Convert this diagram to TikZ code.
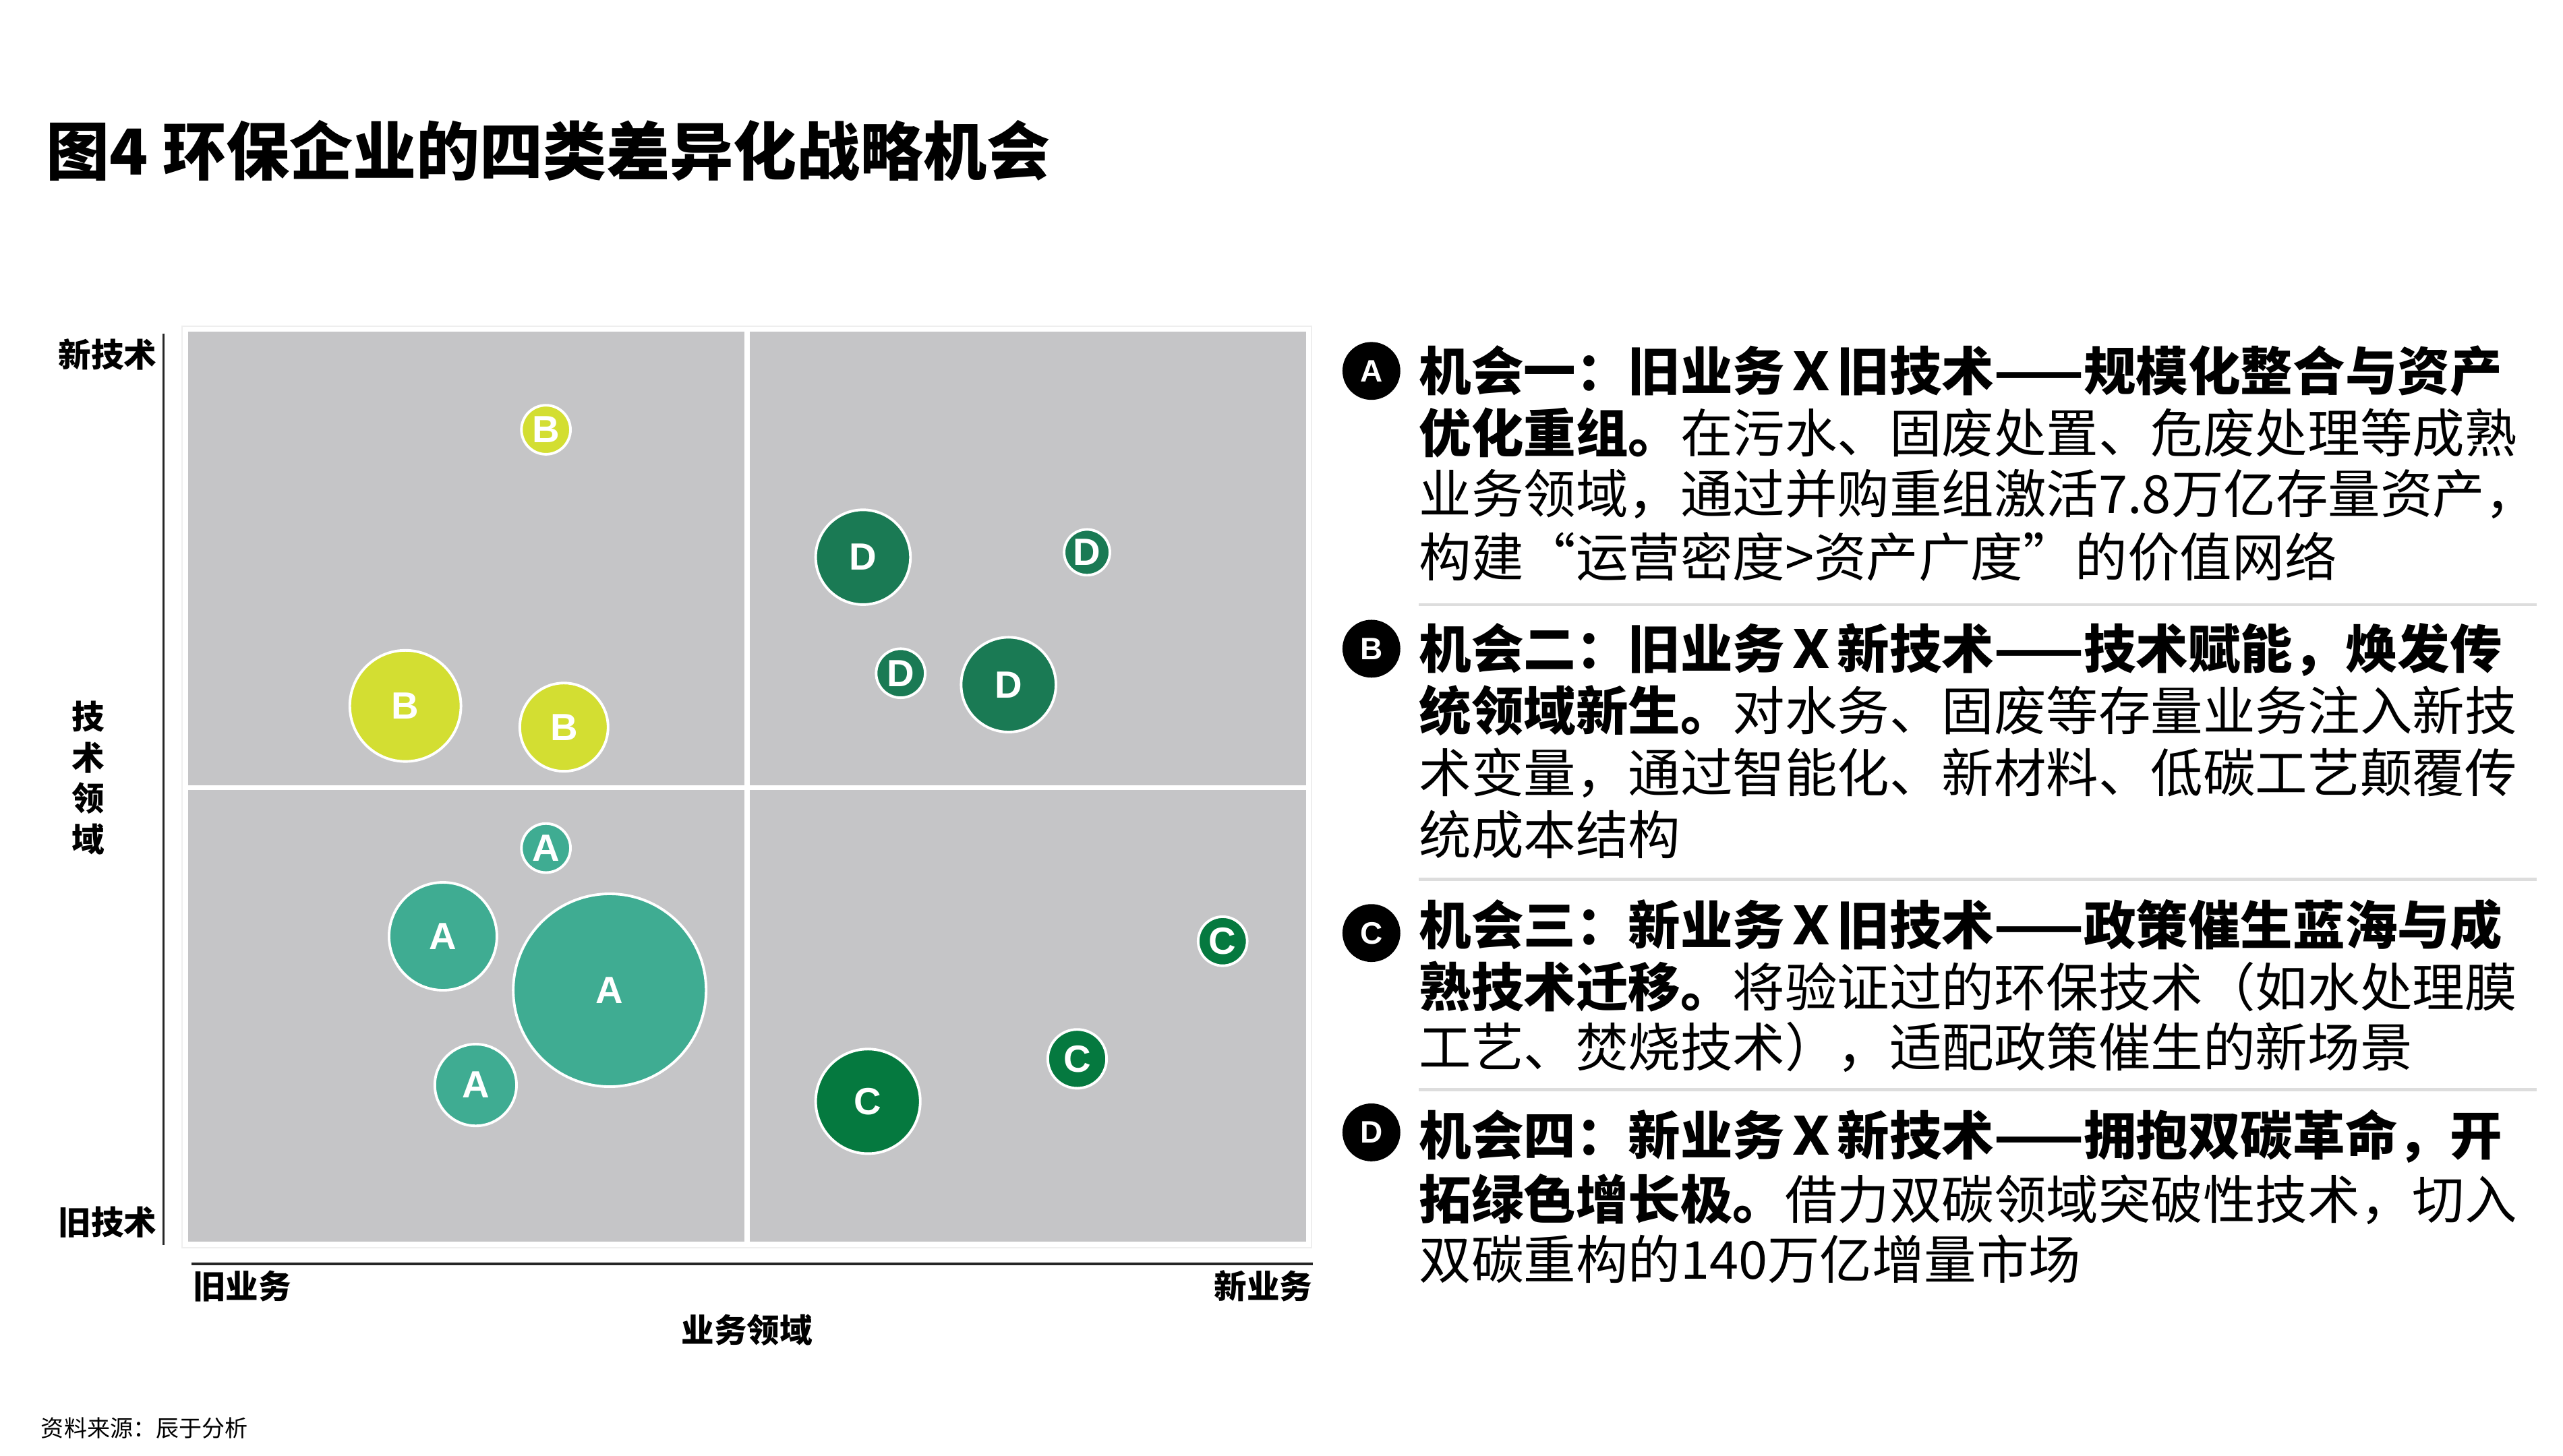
\documentclass[tikz,border=0pt]{standalone}
\usepackage{fontspec}
\setmainfont{Liberation Sans}
\newfontfamily\cjk{Noto Sans CJK SC}
\newfontfamily\latb{Liberation Sans}
\definecolor{quadgray}{HTML}{C5C5C7}
\definecolor{colA}{HTML}{3FAC92}
\definecolor{colB}{HTML}{D3DE32}
\definecolor{colC}{HTML}{05793F}
\definecolor{colD}{HTML}{1A7A54}
\definecolor{sepgray}{HTML}{DDDDDD}
\definecolor{edgegray}{HTML}{EEEEEE}
\tikzset{
  bub/.style={circle, draw=white, line width=0.8mm, inner sep=0pt, text=white,
    font=\latb\bfseries\fontsize{33}{33}\selectfont},
  bubA/.style={bub, fill=colA},
  bubB/.style={bub, fill=colB},
  bubC/.style={bub, fill=colC},
  bubD/.style={bub, fill=colD},
  marker/.style={circle, fill=black, inner sep=0pt, minimum size=17.7mm, text=white,
    font=\latb\bfseries\fontsize{27}{27}\selectfont},
  bodyline/.style={anchor=west, inner sep=0pt, text height=40pt, text depth=6pt,
    font=\cjk\fontsize{45.5}{54}\selectfont},
  axislbl/.style={inner sep=0pt, font=\cjk\bfseries\fontsize{28.5}{35.6}\selectfont},
  sepline/.style={draw=sepgray, line width=1mm},
  axisline/.style={draw=black!85, line width=0.7mm},
  divline/.style={draw=white, line width=1.6mm},
}
\begin{document}
\begin{tikzpicture}[x=0.5mm,y=-0.5mm]
\useasboundingbox[fill=white] (0,0) rectangle (1568,891);

% title
\node[anchor=west, inner sep=0pt, font=\cjk\bfseries\fontsize{55.2}{60}\selectfont] (title) at (28,92) {图4 环保企业的四类差异化战略机会};

% quadrant area
\draw[edgegray, line width=0.4mm] (111.5,199.5) rectangle (802.5,763.5);
\fill[quadgray] (115,203) rectangle (799,760);
\coordinate (vtop) at (457,203);
\coordinate (vbot) at (457,760);
\coordinate (hl) at (115,482);
\coordinate (hr) at (799,482);
\draw[divline] (vtop) -- (vbot);
\draw[divline] (hl) -- (hr);

% axes
\coordinate (yax1) at (100,204);
\coordinate (yax2) at (100,762);
\coordinate (xax1) at (117,773.5);
\coordinate (xax2) at (803,773.5);
\draw[axisline] (yax1) -- (yax2);
\draw[axisline] (xax1) -- (xax2);

\node[axislbl, anchor=east] (newtech) at (96,217) {新技术};
\node[axislbl, anchor=east] (oldtech) at (96,748) {旧技术};
\node[axislbl, align=center] (techfield) at (54,476) {技\\术\\领\\域};
\node[axislbl, anchor=west] (oldbiz) at (118,787) {旧业务};
\node[axislbl, anchor=east] (newbiz) at (803,787) {新业务};
\node[axislbl] (bizfield) at (457,814) {业务领域};

% bubbles
\node[bubB, minimum size=15mm] (b1) at (334,263) {B};
\node[bubB, minimum size=34mm] (b2) at (248,432) {B};
\node[bubB, minimum size=27mm] (b3) at (345,445) {B};
\node[bubD, minimum size=29mm] (d1) at (528,341) {D};
\node[bubD, minimum size=14mm] (d2) at (665,338) {D};
\node[bubD, minimum size=15mm] (d3) at (551,412) {D};
\node[bubD, minimum size=29mm] (d4) at (617,419) {D};
\node[bubA, minimum size=15mm] (a1) at (334,519) {A};
\node[bubA, minimum size=33mm] (a2) at (271,573) {A};
\node[bubA, minimum size=59mm] (a3) at (373,606) {A};
\node[bubA, minimum size=25mm] (a4) at (291,664) {A};
\node[bubC, minimum size=15mm] (c1) at (748,576) {C};
\node[bubC, minimum size=18mm] (c2) at (659,648) {C};
\node[bubC, minimum size=32mm] (c3) at (531,674) {C};

% right panel markers
\node[marker] (ma) at (839,227) {A};
\node[marker] (mb) at (839,397) {B};
\node[marker] (mc) at (839,571) {C};
\node[marker] (md) at (839,693) {D};

% paragraph A
\node[bodyline] (la1) at (868,227) {\bfseries 机会一：旧业务Ｘ旧技术——规模化整合与资产};
\node[bodyline] (la2) at (868,265) {{\bfseries 优化重组。}在污水、固废处置、危废处理等成熟};
\node[bodyline] (la3) at (868,302) {业务领域，通过并购重组激活7.8万亿存量资产，};
\node[bodyline] (la4) at (868,341) {构建“运营密度>资产广度”的价值网络};

% paragraph B
\node[bodyline] (lb1) at (868,397) {\bfseries 机会二：旧业务Ｘ新技术——技术赋能，焕发传};
\node[bodyline] (lb2) at (868,435) {{\bfseries 统领域新生。}对水务、固废等存量业务注入新技};
\node[bodyline] (lb3) at (868,473) {术变量，通过智能化、新材料、低碳工艺颠覆传};
\node[bodyline] (lb4) at (868,511) {统成本结构};

% paragraph C
\node[bodyline] (lc1) at (868,566) {\bfseries 机会三：新业务Ｘ旧技术——政策催生蓝海与成};
\node[bodyline] (lc2) at (868,604) {{\bfseries 熟技术迁移。}将验证过的环保技术（如水处理膜};
\node[bodyline] (lc3) at (868,641) {工艺、焚烧技术），适配政策催生的新场景};

% paragraph D
\node[bodyline] (ld1) at (868,695) {\bfseries 机会四：新业务Ｘ新技术——拥抱双碳革命，开};
\node[bodyline] (ld2) at (868,734) {{\bfseries 拓绿色增长极。}借力双碳领域突破性技术，切入};
\node[bodyline] (ld3) at (868,771) {双碳重构的140万亿增量市场};

% separators
\coordinate (s1a) at (868,370); \coordinate (s1b) at (1552,370);
\coordinate (s2a) at (868,538); \coordinate (s2b) at (1552,538);
\coordinate (s3a) at (868,667); \coordinate (s3b) at (1552,667);
\draw[sepline] (s1a) -- (s1b);
\draw[sepline] (s2a) -- (s2b);
\draw[sepline] (s3a) -- (s3b);

% footnote
\node[anchor=west, inner sep=0pt, font=\cjk\fontsize{20}{24}\selectfont] (src) at (25,874) {资料来源：辰于分析};
\end{tikzpicture}
\end{document}
